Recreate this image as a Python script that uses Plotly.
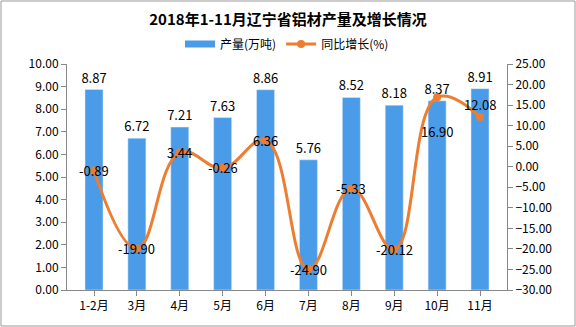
import plotly.graph_objects as go

categories = ["1-2月", "3月", "4月", "5月", "6月", "7月", "8月", "9月", "10月", "11月"]
output = [8.87, 6.72, 7.21, 7.63, 8.86, 5.76, 8.52, 8.18, 8.37, 8.91]
growth = [-0.89, -19.90, 3.44, -0.26, 6.36, -24.90, -5.33, -20.12, 16.90, 12.08]
growth_shift = [0, 0, 0, 0, 0, 0, 0, 0, -34, 13]

FONT = "Noto Sans CJK SC"
BLUE = "#4A9CE8"
ORANGE = "#ED7D31"
fig = go.Figure()
fig.add_trace(go.Bar(
    x=categories, y=output, name="产量(万吨)", marker_color=BLUE, showlegend=False,
    text=[f"{v:.2f}" for v in output], textposition="outside", constraintext="none",
    textfont=dict(size=13, color="#000000"), cliponaxis=False, width=0.42,
))
fig.add_trace(go.Scatter(
    x=[None], y=[None], name="产量(万吨)", mode="lines",
    line=dict(color=BLUE, width=7),
))
fig.add_trace(go.Scatter(
    x=categories, y=growth, name="同比增长(%)", yaxis="y2",
    mode="lines+markers", line=dict(color=ORANGE, width=3, shape="spline", smoothing=1.2),
    marker=dict(size=8, color=ORANGE), cliponaxis=False,
))

annotations = []
for c, v, s in zip(categories, growth, growth_shift):
    annotations.append(dict(x=c, y=v, xref="x", yref="y2", text=f"{v:.2f}", showarrow=False,
                            yshift=s, font=dict(size=13, color="#000000")))

W, H = 576, 327
l, r, t, b = 67, 69, 64, 37
pw, ph = W - l - r, H - t - b
fig.update_layout(
    width=W, height=H, margin=dict(l=l, r=r, t=t, b=b),
    paper_bgcolor="white", plot_bgcolor="white",
    font=dict(family=FONT, size=12, color="#000000"),
    title=dict(text="<b>2018年1-11月辽宁省铝材产量及增长情况</b>", x=0.5, xanchor="center",
               y=1 - 20 / H, yanchor="middle", font=dict(size=15, family=FONT)),
    legend=dict(orientation="h", x=0.5, xanchor="center", y=1 + 20 / ph, yanchor="middle",
                font=dict(size=12), traceorder="normal"),
    showlegend=True, annotations=annotations,
    xaxis=dict(showline=True, linecolor="#888888", ticks="outside", tickcolor="#888888",
               ticklen=5, tickfont=dict(size=12), showgrid=False),
    yaxis=dict(range=[0, 10], dtick=1, tickformat=".2f", showline=True, linecolor="#888888",
               ticks="outside", tickcolor="#888888", ticklen=5, showgrid=False, zeroline=False,
               tickfont=dict(size=12)),
    yaxis2=dict(range=[-30, 25], dtick=5, tickformat=".2f", overlaying="y", side="right",
                showline=True, linecolor="#888888", ticks="outside", tickcolor="#888888",
                ticklen=5, showgrid=False, zeroline=False, tickfont=dict(size=12)),
    shapes=[dict(type="rect", xref="paper", yref="paper",
                 x0=(1 - l) / pw, x1=(W - 1 - l) / pw,
                 y0=-(b - 1) / ph, y1=(ph + t - 1) / ph,
                 line=dict(color="#999999", width=1))],
)
fig.write_html("out.html")
